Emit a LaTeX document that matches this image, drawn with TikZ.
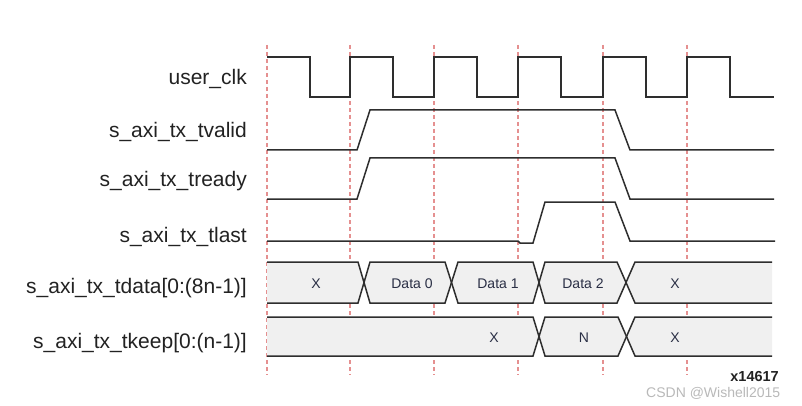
\documentclass[tikz,border=0pt]{standalone}
\usepackage{fontspec}
\setmainfont{Liberation Sans}
\definecolor{wavecol}{HTML}{2E2E2E}
\definecolor{busfill}{HTML}{F0F0F0}
\definecolor{gridred}{HTML}{E59090}
\definecolor{labelcol}{HTML}{222222}
\definecolor{valcol}{HTML}{2A2F45}
\begin{document}
\begin{tikzpicture}[x=1pt,y=-1pt,
  wave/.style={draw=wavecol, line width=1.5pt, line join=miter},
  busfillst/.style={fill=busfill, draw=none},
  busline/.style={draw=wavecol, line width=1.5pt, line join=miter},
  gridline/.style={draw=gridred, line width=1.2pt, dash pattern=on 4pt off 3pt},
  sig/.style={anchor=base east, inner sep=0pt, font=\fontsize{21}{24}\selectfont, text=labelcol},
  val/.style={anchor=base, inner sep=0pt, font=\fontsize{14}{16}\selectfont, text=valcol}]
\useasboundingbox[fill=white] (0,0) rectangle (802,406);

% grid
\foreach \gx/\gn in {267/g0,350/g1,434/g2,518/g3,603/g4,687/g5}{
  \coordinate (\gn t) at (\gx,45);
  \coordinate (\gn b) at (\gx,375);
  \draw[gridline] (\gn t) -- (\gn b);
}

% labels
\node[sig] (lclk) at (247,85) {user\_clk};
\node[sig] (lvalid) at (247,138) {s\_axi\_tx\_tvalid};
\node[sig] (lready) at (247,186) {s\_axi\_tx\_tready};
\node[sig] (llast) at (247,242) {s\_axi\_tx\_tlast};
\node[sig] (ldata) at (247,293) {s\_axi\_tx\_tdata[0:(8n-1)]};
\node[sig] (lkeep) at (247,348) {s\_axi\_tx\_tkeep[0:(n-1)]};

% clock
\draw[wave] (267,57) -- (310,57) -- (310,97) -- (350,97) -- (350,57) -- (393,57) -- (393,97)
  -- (434,97) -- (434,57) -- (477,57) -- (477,97) -- (518,97) -- (518,57) -- (561,57)
  -- (561,97) -- (603,97) -- (603,57) -- (646,57) -- (646,97) -- (687,97) -- (687,57)
  -- (730,57) -- (730,97) -- (774,97);

% tvalid
\draw[wave] (267,150) -- (357,150) -- (370,110) -- (615,110) -- (630,150) -- (774,150);
% tready
\draw[wave] (267,199) -- (357,199) -- (370,158) -- (615,158) -- (630,199) -- (774,199);
% tlast
\draw[wave] (267,241) -- (518,241) -- (520,243) -- (533,243) -- (545,202) -- (615,202) -- (630,241) -- (775,241);

% tdata bus
\fill[busfillst] (267,262) -- (358,262) -- (364,282.5) -- (358,303) -- (267,303) -- cycle;
\fill[busfillst] (370,262) -- (445,262) -- (451.5,282.5) -- (445,303) -- (370,303) -- (364,282.5) -- cycle;
\fill[busfillst] (458,262) -- (533,262) -- (539,282.5) -- (533,303) -- (458,303) -- (451.5,282.5) -- cycle;
\fill[busfillst] (545,262) -- (617,262) -- (626,282.5) -- (617,303) -- (545,303) -- (539,282.5) -- cycle;
\fill[busfillst] (635,262) -- (772,262) -- (772,303) -- (635,303) -- (626,282.5) -- cycle;
\draw[busline] (267,262) -- (358,262) -- (370,303) -- (445,303) -- (458,262) -- (533,262) -- (545,303) -- (617,303) -- (635,262) -- (772,262);
\draw[busline] (267,303) -- (358,303) -- (370,262) -- (445,262) -- (458,303) -- (533,303) -- (545,262) -- (617,262) -- (635,303) -- (772,303);
\node[val] (d0) at (316,288) {X};
\node[val] (d1) at (412,288) {Data 0};
\node[val] (d2) at (498,288) {Data 1};
\node[val] (d3) at (583,288) {Data 2};
\node[val] (d4) at (675,288) {X};

% tkeep bus
\fill[busfillst] (267,317) -- (533,317) -- (539,336.5) -- (533,356) -- (267,356) -- cycle;
\fill[busfillst] (545,317) -- (618,317) -- (626.5,336.5) -- (618,356) -- (545,356) -- (539,336.5) -- cycle;
\fill[busfillst] (635,317) -- (772,317) -- (772,356) -- (635,356) -- (626.5,336.5) -- cycle;
\draw[busline] (267,317) -- (533,317) -- (545,356) -- (618,356) -- (635,317) -- (772,317);
\draw[busline] (267,356) -- (533,356) -- (545,317) -- (618,317) -- (635,356) -- (772,356);
\node[val] (k0) at (494,342) {X};
\node[val] (k1) at (584,342) {N};
\node[val] (k2) at (675,342) {X};

% footer
\node[anchor=base west, inner sep=0pt, font=\fontsize{14}{16}\selectfont, text=gray!55] (wm) at (646,397) {CSDN @Wishell2015};
\node[anchor=base east, inner sep=0pt, font=\fontsize{14.5}{16}\selectfont\bfseries, text=labelcol] (fig) at (779,381.5) {x14617};
\end{tikzpicture}
\end{document}
